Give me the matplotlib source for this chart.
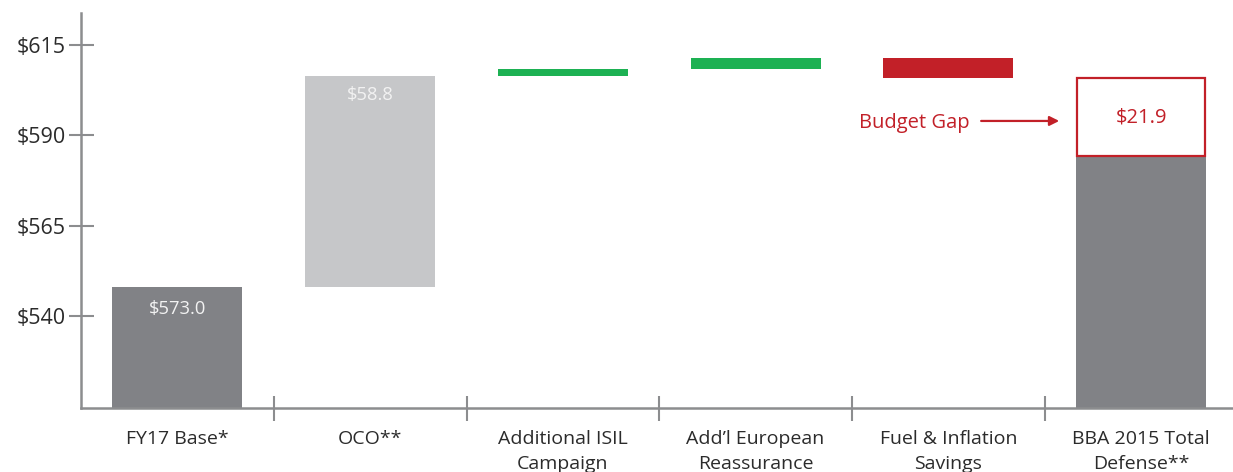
import matplotlib
matplotlib.use("Agg")
import matplotlib.pyplot as plt
from matplotlib.ticker import FixedLocator

plt.rcParams['font.family'] = ['Open Sans', 'DejaVu Sans']

# ---- data (as drawn) ----
categories = ["FY17 Base*", "OCO**", "Additional ISIL\nCampaign",
              "Add\u2019l European\nReassurance", "Fuel & Inflation\nSavings",
              "BBA 2015 Total\nDefense**"]
axis_floor = 514.5
fy17_top = 548.0
step_deltas = [58.5, 2.0, 2.8, -5.5]          # OCO, ISIL, European, Fuel
bba_total = 584.2
budget_gap = 21.7
value_labels = ["$573.0", "$58.8", "$21.9"]
ytick_values = [540, 565, 590, 615]
ytick_labels = ["$540", "$565", "$590", "$615"]

DARK = "#818286"
LIGHT = "#C6C7C9"
GREEN = "#1DB153"
RED = "#C22028"
AXIS = "#8C8D8F"
TEXT = "#2B2B2B"

W, H = 1233, 472
fig = plt.figure(figsize=(W / 100, H / 100), dpi=100)
ax = fig.add_axes([81 / W, (H - 408) / H, (W - 81) / W, (408 - 13) / H])

bw = 0.674
xs = list(range(len(categories)))

# FY17 base bar
ax.bar(xs[0], fy17_top - axis_floor, bottom=axis_floor, width=bw, color=DARK, zorder=2)
ax.text(xs[0], fy17_top - 6.0, value_labels[0], ha="center", va="center",
        color="#F2F2F2", fontsize=13.2, zorder=3)

# floating steps
level = fy17_top
step_colors = [LIGHT, GREEN, GREEN, RED]
for i, (d, c) in enumerate(zip(step_deltas, step_colors), start=1):
    ax.bar(xs[i], d, bottom=level, width=bw, color=c, zorder=2)
    level += d
ax.text(xs[1], fy17_top + step_deltas[0] - 5.4, value_labels[1], ha="center", va="center",
        color="#F2F2F2", fontsize=13.2, zorder=3)

# BBA total bar + budget gap box
ax.bar(xs[5], bba_total - axis_floor, bottom=axis_floor, width=bw, color=DARK, zorder=2)
ax.bar(xs[5], budget_gap, bottom=bba_total, width=bw - 0.01, color="white",
       edgecolor=RED, linewidth=1.6, zorder=3)
ax.text(xs[5], bba_total + budget_gap / 2, value_labels[2], ha="center", va="center",
        color=RED, fontsize=14.5, zorder=4)

# Budget gap annotation
ax.annotate("", xy=(4.575, 594.0), xytext=(4.17, 594.0),
            arrowprops=dict(arrowstyle="-|>", color=RED, lw=1.6,
                            mutation_scale=14, shrinkA=0, shrinkB=0))
ax.text(4.11, 593.5, "Budget Gap", ha="right", va="center", color=RED, fontsize=14.5)

# axes styling
ax.set_xlim(-0.5, -0.5 + (W - 81) / 192.75)
ax.set_ylim(axis_floor, 623.9)
for s in ["top", "right"]:
    ax.spines[s].set_visible(False)
for s in ["left", "bottom"]:
    ax.spines[s].set_color(AXIS)
    ax.spines[s].set_linewidth(1.8)

ax.set_yticks(ytick_values)
ax.set_yticklabels(ytick_labels)
ax.tick_params(axis="y", direction="inout", length=18, width=1.5, color=AXIS,
               labelsize=15.5, labelcolor=TEXT, pad=2)

ax.set_xticks(xs)
ax.set_xticklabels(categories)
ax.tick_params(axis="x", which="major", length=0, labelsize=14, labelcolor=TEXT, pad=16)
ax.xaxis.set_minor_locator(FixedLocator([0.5, 1.5, 2.5, 3.5, 4.5]))
ax.tick_params(axis="x", which="minor", direction="inout", length=18, width=1.5, color=AXIS)
for lbl in ax.get_xticklabels():
    lbl.set_linespacing(1.45)

fig.savefig("out.png", dpi=100)
